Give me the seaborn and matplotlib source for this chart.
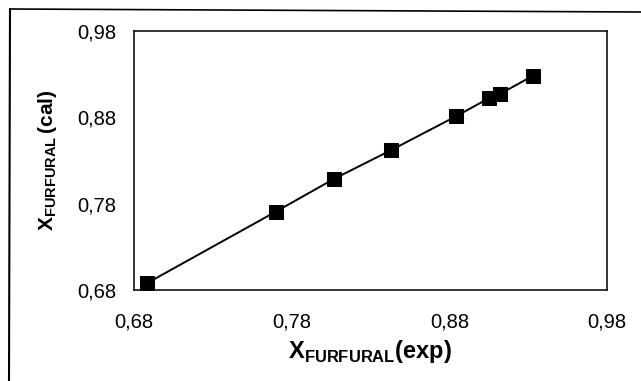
import matplotlib
matplotlib.use("Agg")
import matplotlib.pyplot as plt
from matplotlib.lines import Line2D
import seaborn as sns
import pandas as pd

# Experimental vs calculated furfural mole fractions
x_exp = [0.688, 0.770, 0.807, 0.843, 0.884, 0.905, 0.912, 0.933]
x_cal = [0.688, 0.771, 0.809, 0.842, 0.881, 0.902, 0.907, 0.928]

tick_values = [0.68, 0.78, 0.88, 0.98]
tick_labels = ["0,68", "0,78", "0,88", "0,98"]

sns.set_theme(style="white")
plt.rcParams["font.family"] = ["Liberation Sans", "DejaVu Sans"]
plt.rcParams["mathtext.fontset"] = "custom"
plt.rcParams["mathtext.rm"] = "Liberation Sans"
plt.rcParams["mathtext.bf"] = "Liberation Sans:bold"

df = pd.DataFrame({"exp": x_exp, "cal": x_cal})

fig = plt.figure(figsize=(6.41, 3.81), dpi=100)
ax = fig.add_axes([0.209, 0.238, 0.738, 0.681])

sns.lineplot(data=df, x="exp", y="cal", sort=False, ax=ax, color="black",
             linewidth=1.4, marker="s", markersize=10,
             markeredgecolor="black", markerfacecolor="black")

ax.set_xlim(0.68, 0.98)
ax.set_ylim(0.68, 0.98)
ax.set_xticks(tick_values)
ax.set_xticklabels(tick_labels)
ax.set_yticks(tick_values)
ax.set_yticklabels(tick_labels)
ax.tick_params(axis="both", which="major", direction="out", length=5,
               width=1, color="black", labelsize=14.5, labelcolor="black", pad=8)
ax.tick_params(axis="x", pad=11)
for side in ax.spines.values():
    side.set_visible(True)
    side.set_color("black")
    side.set_linewidth(1.1)

ax.set_xlabel(r"$\mathbf{X}_{\mathbf{FURFURAL}}\mathbf{(exp)}$", fontsize=17,
              color="black", labelpad=5)
ax.set_ylabel(r"$\mathbf{X}_{\mathbf{FURFURAL}}\,\mathbf{(cal)}$", fontsize=15,
              color="black", labelpad=13)

# Chart-area frame along the top and left edges
fig.add_artist(Line2D([10 / 641, 1.0], [1 - 9 / 381, 1 - 12 / 381],
                      transform=fig.transFigure, color="black", linewidth=1.2))
fig.add_artist(Line2D([10 / 641, 9 / 641], [1 - 9 / 381, 0.0],
                      transform=fig.transFigure, color="black", linewidth=1.5))

fig.savefig("out.png", dpi=100, facecolor="white")
